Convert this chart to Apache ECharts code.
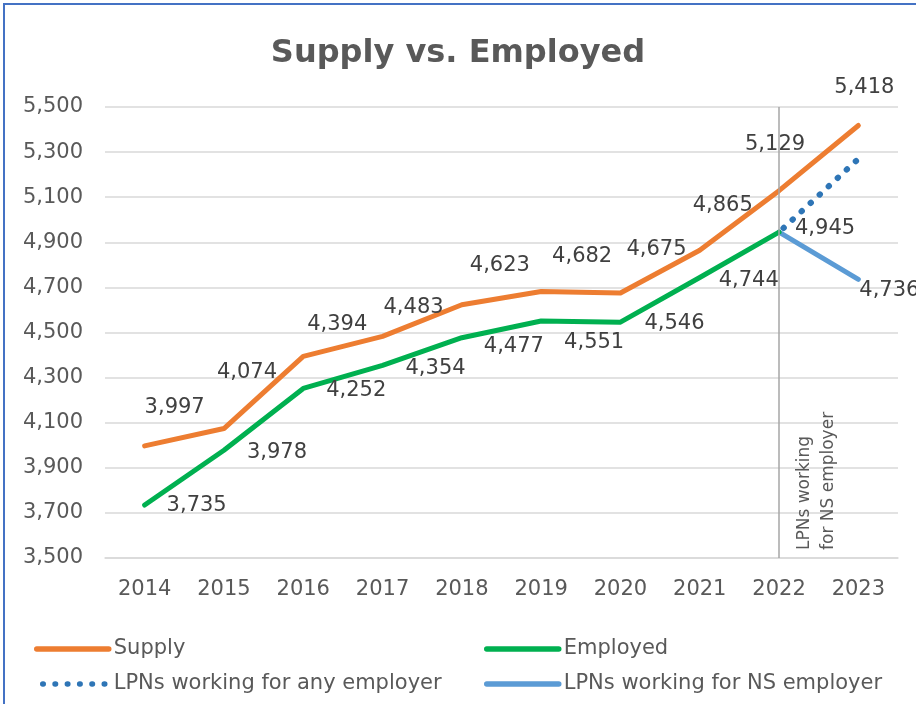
<!DOCTYPE html>
<html>
<head>
<meta charset="utf-8">
<script src="https://cdn.jsdelivr.net/npm/echarts@6/dist/echarts.min.js"></script>
<style>
  html, body { margin: 0; padding: 0; background: #fff; }
  #chart { width: 916px; height: 704px; }
</style>
</head>
<body>
<div id="chart"></div>
<script>
// values
var years = ['2014', '2015', '2016', '2017', '2018', '2019', '2020', '2021', '2022', '2023'];
var supply = [3997, 4074, 4394, 4483, 4623, 4682, 4675, 4865, 5129, 5418];
var employed = [3735, 3978, 4252, 4354, 4477, 4551, 4546, 4744, 4945, null];
var anyEmployer = [null, null, null, null, null, null, null, null, 4945, 5270];
var nsEmployer = [null, null, null, null, null, null, null, null, 4945, 4736];

// label nudges (px) so the numbers sit where Excel put them
var supplyNudge = [[30, -38], [23, -56], [34, -32], [31, -29], [38, -39], [41, -35], [36, -43], [23, -45], [-4, -46], [6, -38]];
var employedNudge = [[52, 1], [53, 2], [53, 2], [53, 3], [52, 9], [53, 22], [54, 1], [49, 3], [46, -4], [0, 0]];
var anyNudge = [26, -4];
var nsNudge = [31, 11];

var FONT = 'DejaVu Sans';
var labelColor = '#404040';

function fmt(v) {
    return Number(v).toLocaleString('en-US');
}

function withLabels(values, nudges) {
    return values.map(function (v, i) {
        if (v == null) return v;
        return {
            value: v,
            label: { offset: nudges[i] }
        };
    });
}

function lastOnly(values, nudge) {
    return values.map(function (v, i) {
        if (v == null) return v;
        if (i === values.length - 1) {
            return { value: v, label: { show: true, offset: nudge } };
        }
        return { value: v, label: { show: false } };
    });
}

var baseLabel = {
    show: true,
    position: 'inside',
    align: 'center',
    verticalAlign: 'middle',
    fontFamily: FONT,
    fontSize: 21,
    color: labelColor,
    formatter: function (p) { return fmt(p.value); }
};

var legendBase = {
    orient: 'vertical',
    top: 632,
    itemWidth: 72,
    itemHeight: 14,
    itemGap: 11,
    itemStyle: { opacity: 0 },
    lineStyle: { width: 5.5 },
    textStyle: { fontFamily: FONT, fontSize: 21, color: '#595959', lineHeight: 24 }
};

var chart = echarts.init(document.getElementById('chart'));

var option = {
    animation: false,
    backgroundColor: '#fff',
    textStyle: { fontFamily: FONT },
    graphic: [{
        type: 'rect',
        shape: { x: 4, y: 4, width: 1000, height: 1000 },
        style: { fill: 'none', stroke: '#4472C4', lineWidth: 2 },
        silent: true
    }],
    title: {
        text: 'Supply vs. Employed',
        left: 'center',
        top: 33,
        textStyle: { fontFamily: FONT, fontSize: 32, fontWeight: 'bold', color: '#595959' }
    },
    legend: [
        Object.assign({}, legendBase, { left: 29, data: ['Supply', 'LPNs working for any employer'] }),
        Object.assign({}, legendBase, { left: 479, data: ['Employed', 'LPNs working for NS employer'] })
    ],
    grid: { left: 105, right: 18, top: 107, bottom: 146 },
    xAxis: {
        type: 'category',
        data: years,
        boundaryGap: true,
        axisLine: { lineStyle: { color: '#D9D9D9', width: 1.5 } },
        axisTick: { show: false },
        axisLabel: { fontFamily: FONT, fontSize: 21, color: '#595959', margin: 21 }
    },
    yAxis: {
        type: 'value',
        min: 3500,
        max: 5500,
        interval: 200,
        axisLine: { show: false },
        axisTick: { show: false },
        splitLine: { lineStyle: { color: '#D9D9D9', width: 1.5 } },
        axisLabel: {
            fontFamily: FONT, fontSize: 21, color: '#595959', margin: 22,
            formatter: function (v) { return fmt(v); }
        }
    },
    series: [{
        name: 'Supply',
        type: 'line',
        data: withLabels(supply, supplyNudge),
        symbol: 'circle',
        symbolSize: 2,
        itemStyle: { color: '#ED7D31' },
        lineStyle: { color: '#ED7D31', width: 5, cap: 'round', join: 'round' },
        label: baseLabel,
        z: 3,
        markLine: {
            silent: true,
            symbol: 'none',
            lineStyle: { color: '#A6A6A6', width: 1.5, type: 'solid' },
            label: {
                show: true,
                position: 'insideStartBottom',
                formatter: 'LPNs working\nfor NS employer',
                fontFamily: FONT,
                fontSize: 17,
                lineHeight: 24,
                color: '#595959',
                align: 'left',
                distance: [8, 14]
            },
            data: [{ xAxis: '2022' }]
        }
    }, {
        name: 'Employed',
        type: 'line',
        data: withLabels(employed, employedNudge),
        symbol: 'circle',
        symbolSize: 2,
        itemStyle: { color: '#00B050' },
        lineStyle: { color: '#00B050', width: 5, cap: 'round', join: 'round' },
        label: baseLabel,
        z: 3
    }, {
        name: 'LPNs working for any employer',
        type: 'line',
        data: lastOnly(anyEmployer, anyNudge),
        symbol: 'circle',
        symbolSize: 1,
        itemStyle: { color: '#2E75B6', opacity: 0 },
        lineStyle: { color: '#2E75B6', width: 6, type: [0.5, 11.8], dashOffset: -6, cap: 'round' },
        label: baseLabel,
        z: 2
    }, {
        name: 'LPNs working for NS employer',
        type: 'line',
        data: lastOnly(nsEmployer, nsNudge),
        symbol: 'circle',
        symbolSize: 2,
        itemStyle: { color: '#5B9BD5' },
        lineStyle: { color: '#5B9BD5', width: 5, cap: 'round', join: 'round' },
        label: baseLabel,
        z: 2
    }]
};

chart.setOption(option);
</script>
</body>
</html>
